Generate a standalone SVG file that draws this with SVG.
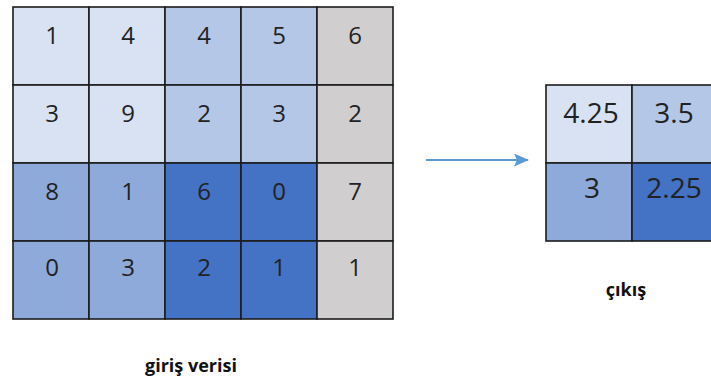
<svg xmlns="http://www.w3.org/2000/svg" width="711" height="383" viewBox="0 0 711 383">
  <defs>
    <marker id="arrowHead" markerWidth="15" markerHeight="13" refX="14" refY="6.5" orient="auto" markerUnits="userSpaceOnUse">
      <path d="M0,0 L15,6.5 L0,13 L3,6.5 Z" fill="#5B9BD5"/>
    </marker>
  </defs>
  <style>
    .cell { stroke: #1c1c1c; stroke-width: 1.6; }
    .c1 { fill: #D9E2F3; }
    .c2 { fill: #B4C7E7; }
    .c3 { fill: #8EAADB; }
    .c4 { fill: #4472C4; }
    .cg { fill: #D0CECE; }
    .num { font-family: "Open Sans", "Liberation Sans", sans-serif; font-size: 24px; fill: #222; text-anchor: middle; }
    .big { font-size: 28px; }
    .lbl { font-family: "Open Sans", "Liberation Sans", sans-serif; font-size: 18px; font-weight: bold; fill: #111; text-anchor: middle; }
  </style>
  <rect width="711" height="383" fill="#ffffff"/>

  <!-- input matrix: 4 rows x 5 columns -->
  <g id="input">
    <rect class="cell c1" x="13" y="7" width="76" height="78"/>
    <rect class="cell c1" x="89" y="7" width="76" height="78"/>
    <rect class="cell c2" x="165" y="7" width="76" height="78"/>
    <rect class="cell c2" x="241" y="7" width="76" height="78"/>
    <rect class="cell cg" x="317" y="7" width="76" height="78"/>

    <rect class="cell c1" x="13" y="85" width="76" height="78"/>
    <rect class="cell c1" x="89" y="85" width="76" height="78"/>
    <rect class="cell c2" x="165" y="85" width="76" height="78"/>
    <rect class="cell c2" x="241" y="85" width="76" height="78"/>
    <rect class="cell cg" x="317" y="85" width="76" height="78"/>

    <rect class="cell c3" x="13" y="163" width="76" height="78"/>
    <rect class="cell c3" x="89" y="163" width="76" height="78"/>
    <rect class="cell c4" x="165" y="163" width="76" height="78"/>
    <rect class="cell c4" x="241" y="163" width="76" height="78"/>
    <rect class="cell cg" x="317" y="163" width="76" height="78"/>

    <rect class="cell c3" x="13" y="241" width="76" height="78"/>
    <rect class="cell c3" x="89" y="241" width="76" height="78"/>
    <rect class="cell c4" x="165" y="241" width="76" height="78"/>
    <rect class="cell c4" x="241" y="241" width="76" height="78"/>
    <rect class="cell cg" x="317" y="241" width="76" height="78"/>

    <text class="num" x="52" y="44">1</text>
    <text class="num" x="128" y="44">4</text>
    <text class="num" x="204" y="44">4</text>
    <text class="num" x="279" y="44">5</text>
    <text class="num" x="355" y="44">6</text>

    <text class="num" x="52" y="122">3</text>
    <text class="num" x="128" y="122">9</text>
    <text class="num" x="204" y="122">2</text>
    <text class="num" x="279" y="122">3</text>
    <text class="num" x="355" y="122">2</text>

    <text class="num" x="52" y="200">8</text>
    <text class="num" x="128" y="200">1</text>
    <text class="num" x="204" y="200">6</text>
    <text class="num" x="279" y="200">0</text>
    <text class="num" x="355" y="200">7</text>

    <text class="num" x="52" y="276">0</text>
    <text class="num" x="128" y="276">3</text>
    <text class="num" x="204" y="276">2</text>
    <text class="num" x="279" y="276">1</text>
    <text class="num" x="355" y="276">1</text>

    <text class="lbl" x="191" y="372">giriş verisi</text>
  </g>

  <!-- output matrix: 2 x 2 -->
  <g id="output">
    <rect class="cell c1" x="546" y="85" width="86" height="78"/>
    <rect class="cell c2" x="632" y="85" width="86" height="78"/>
    <rect class="cell c3" x="546" y="163" width="86" height="78"/>
    <rect class="cell c4" x="632" y="163" width="86" height="78"/>

    <text class="num big" x="591" y="123">4.25</text>
    <text class="num big" x="674" y="123">3.5</text>
    <text class="num big" x="592" y="198">3</text>
    <text class="num big" x="674" y="198">2.25</text>

    <text class="lbl" x="626" y="296">çıkış</text>
  </g>

  <g id="connectors">
    <line x1="426" y1="160" x2="528" y2="160" stroke="#5B9BD5" stroke-width="1.8" marker-end="url(#arrowHead)"/>
  </g>
</svg>
